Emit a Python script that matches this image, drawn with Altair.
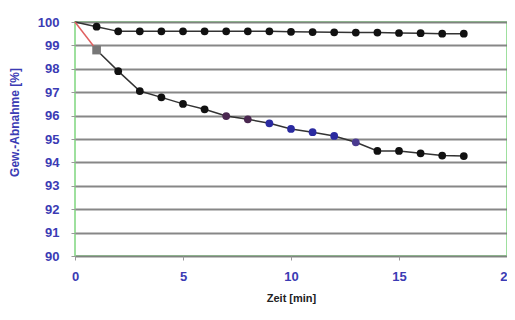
import altair as alt
import pandas as pd

minutes = list(range(0, 19))
series_top = [100, 99.8, 99.6, 99.6, 99.6, 99.6, 99.6, 99.6, 99.6, 99.6,
              99.58, 99.57, 99.56, 99.55, 99.55, 99.53, 99.52, 99.5, 99.5]
series_bottom = [100, 98.8, 97.9, 97.05, 96.78, 96.5, 96.27, 95.98, 95.84, 95.67,
                 95.43, 95.29, 95.13, 94.86, 94.49, 94.49, 94.39, 94.29, 94.27]
x_ticks = [0, 5, 10, 15, 20]
y_ticks = [90, 91, 92, 93, 94, 95, 96, 97, 98, 99, 100]

df = pd.DataFrame({"x": minutes, "top": series_top, "bottom": series_bottom})

FONT = "Liberation Sans"
BLUE = "#3b3bb4"

xs = alt.Scale(domain=[0, 20], nice=False)
ys = alt.Scale(domain=[90, 100], nice=False)

xenc = alt.X("x:Q", scale=xs, axis=alt.Axis(
    values=x_ticks, title="Zeit [min]", grid=False, labelColor=BLUE,
    labelFontWeight="bold", labelFontSize=13, labelFont=FONT, labelPadding=10,
    labelOverlap=False, labelFlush=False,
    titleFont=FONT, titleFontSize=11, titleFontWeight="bold", titleColor="#222",
    titlePadding=9, tickColor="#999", tickSize=4, domain=False))

yaxis = alt.Axis(
    values=y_ticks, title="Gew.-Abnahme [%]", grid=True, gridColor="#7a7a7a",
    gridWidth=1.8, gridOpacity=0.9, labelColor=BLUE, labelFontWeight="bold",
    labelFontSize=13, labelFont=FONT, labelPadding=12, labelOverlap=False,
    labelFlush=False, titleFont=FONT,
    titleFontSize=12, titleFontWeight="bold", titleColor=BLUE, titlePadding=16,
    titleY=100, tickColor="#999", tickSize=4, domain=False)

def yenc(field):
    return alt.Y(f"{field}:Q", scale=ys, axis=yaxis)

base = alt.Chart(df)

top_line = base.mark_line(color="#333", strokeWidth=1.5).encode(x=xenc, y=yenc("top"))
top_pts = base.transform_filter("datum.x >= 1").mark_circle(
    size=60, opacity=1, color="#111").encode(x=xenc, y=yenc("top"))

bot_red = base.transform_filter("datum.x <= 1").mark_line(
    color="#e06060", strokeWidth=1.5).encode(x=xenc, y=yenc("bottom"))
bot_line = base.transform_filter("datum.x >= 1").mark_line(
    color="#333", strokeWidth=1.5).encode(x=xenc, y=yenc("bottom"))
bot_sq = base.transform_filter("datum.x == 1").mark_square(
    size=75, opacity=1, color="#777").encode(x=xenc, y=yenc("bottom"))
bot_pts = base.transform_filter("datum.x >= 2").transform_calculate(
    col="(datum.x >= 9 && datum.x <= 12) ? '#2a2aa0' : "
        "((datum.x >= 7 && datum.x <= 8) ? '#4a2850' : "
        "(datum.x == 13 ? '#4a3a90' : '#111'))"
).mark_circle(size=60, opacity=1).encode(
    x=xenc, y=yenc("bottom"), color=alt.Color("col:N", scale=None))

chart = alt.layer(top_line, top_pts, bot_red, bot_line, bot_sq, bot_pts).properties(
    width=432, height=234,
    autosize=alt.AutoSizeParams(type="none"),
    padding={"left": 67, "top": 14, "right": 0, "bottom": 56},
    background="white",
).configure_view(stroke="#9ee09e", strokeWidth=2)

chart.save("out.html", embed_options={"renderer": "svg", "actions": False})
